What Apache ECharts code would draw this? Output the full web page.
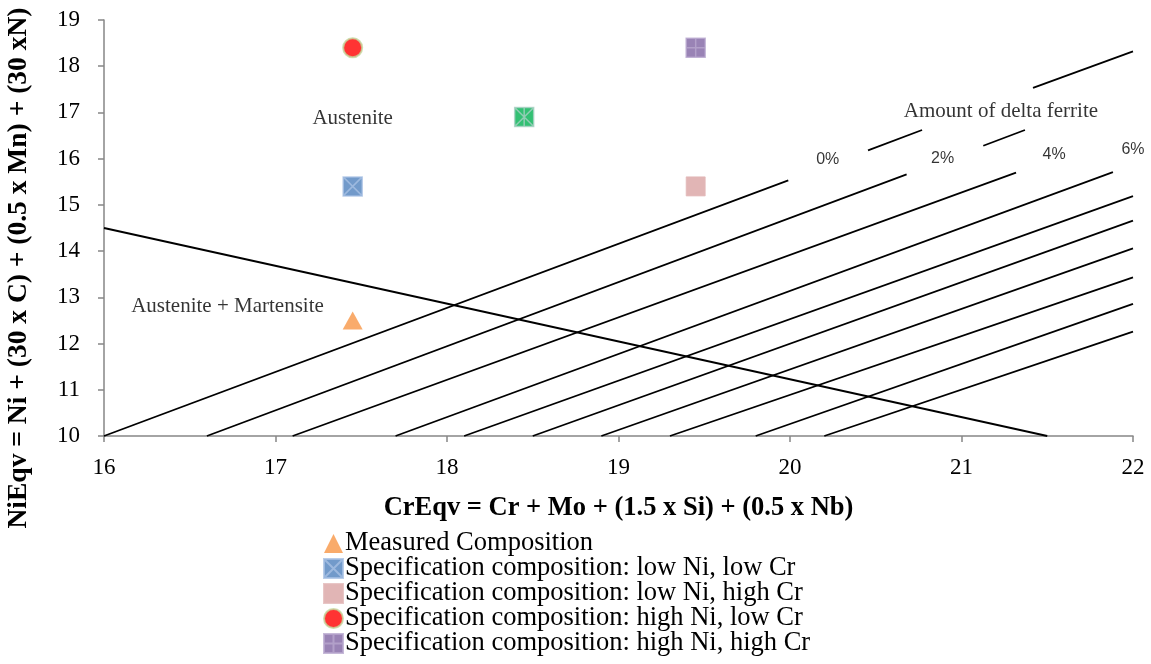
<!DOCTYPE html>
<html>
<head>
<meta charset="utf-8">
<title>Schaeffler-type constitution diagram</title>
<script src="https://cdn.jsdelivr.net/npm/echarts@6/dist/echarts.min.js"></script>
<style>
  html, body { margin: 0; padding: 0; background: #fff; }
  #chart { width: 1151px; height: 664px; }
</style>
</head>
<body>
<div id="chart"></div>
<script>
// Axis ranges and ticks
const xTicks = [16, 17, 18, 19, 20, 21, 22];
const yTicks = [10, 11, 12, 13, 14, 15, 16, 17, 18, 19];

// Composition points [CrEqv, NiEqv]
const measured = [[17.45, 12.5]];
const lowNiLowCr = [[17.45, 15.4]];
const lowNiHighCr = [[19.45, 15.4]];
const highNiLowCr = [[17.45, 18.4]];
const highNiHighCr = [[19.45, 18.4]];
const nominal = [[18.45, 16.9]];

// Delta-ferrite iso-lines, as segments [[x1, y1], [x2, y2]] (gaps leave room for labels)
const ferriteSegments = [
  [[16.0, 10], [19.99, 15.53]],
  [[20.455, 16.18], [20.77, 16.62]],
  [[21.417, 17.53], [22.0, 18.32]],
  [[16.6, 10], [20.68, 15.66]],
  [[21.127, 16.28], [21.37, 16.62]],
  [[17.1, 10], [21.318, 15.70]],
  [[17.7, 10], [21.883, 15.71]],
  [[18.1, 10], [22.0, 15.19]],
  [[18.5, 10], [22.0, 14.66]],
  [[18.9, 10], [22.0, 14.06]],
  [[19.3, 10], [22.0, 13.43]],
  [[19.8, 10], [22.0, 12.86]],
  [[20.2, 10], [22.0, 12.26]]
];
// Austenite / austenite + martensite boundary
const martensiteBoundary = [[16.0, 14.5], [21.5, 10.0]];

// Text annotations [x, y, text]
const regionLabels = [
  [17.45, 16.88, 'Austenite'],
  [16.72, 12.81, 'Austenite + Martensite'],
  [21.23, 17.03, 'Amount of delta ferrite']
];
const ferriteLabels = [
  [20.22, 15.97, '0%'],
  [20.89, 16.00, '2%'],
  [21.54, 16.08, '4%'],
  [22.00, 16.19, '6%']
];

const seriesNames = [
  'Measured Composition',
  'Specification composition: low Ni, low Cr',
  'Specification composition: low Ni, high Cr',
  'Specification composition: high Ni, low Cr',
  'Specification composition: high Ni, high Cr'
];

const SERIF = '"Liberation Serif", "Times New Roman", serif';
const SANS = '"Liberation Sans", Arial, sans-serif';

// Marker shapes: filled square with lighter cross strokes
const squareX = 'path://M0 0H20V20H0Z M0 0L20 20 M20 0L0 20';
const squarePlus = 'path://M0 0H20V20H0Z M10 0V20 M0 10H20';
const squareStar = 'path://M0 0H20V20H0Z M0 0L20 20 M20 0L0 20 M10 0V20';

const chart = echarts.init(document.getElementById('chart'), null, { renderer: 'canvas' });

const option = {
  animation: false,
  backgroundColor: '#ffffff',
  grid: { left: 104, right: 18, top: 20, bottom: 228, containLabel: false, outerBoundsMode: 'none' },
  xAxis: {
    type: 'value',
    min: xTicks[0], max: xTicks[xTicks.length - 1], interval: 1,
    name: 'CrEqv = Cr + Mo + (1.5 x Si) + (0.5 x Nb)',
    nameLocation: 'middle', nameGap: 59,
    nameTextStyle: { fontFamily: SERIF, fontWeight: 'bold', fontSize: 26.5, color: '#000' },
    axisLine: { lineStyle: { color: '#868686', width: 1.5 } },
    axisTick: { show: true, length: 6, lineStyle: { color: '#868686', width: 1.5 } },
    axisLabel: { fontFamily: SERIF, fontSize: 23, color: '#000', margin: 20 },
    splitLine: { show: false }
  },
  yAxis: {
    type: 'value',
    min: yTicks[0], max: yTicks[yTicks.length - 1], interval: 1,
    name: 'NiEqv = Ni + (30 x C) + (0.5 x Mn) + (30 xN)',
    nameLocation: 'middle', nameGap: 71,
    nameTextStyle: { fontFamily: SERIF, fontWeight: 'bold', fontSize: 27.5, color: '#000', padding: [0, 80, 0, 0] },
    axisLine: { show: true, lineStyle: { color: '#868686', width: 1.5 } },
    axisTick: { show: true, length: 6, lineStyle: { color: '#868686', width: 1.5 } },
    axisLabel: { fontFamily: SERIF, fontSize: 23, color: '#000', margin: 24 },
    splitLine: { show: false }
  },
  legend: {
    orient: 'vertical',
    left: 323, top: 530,
    itemWidth: 19, itemHeight: 19, itemGap: -2,
    padding: 0,
    textStyle: { fontFamily: SERIF, fontSize: 26.5, color: '#000', padding: [0, 0, 0, -3] },
    data: [
      { name: seriesNames[0], icon: 'triangle' },
      { name: seriesNames[1], icon: squareX },
      { name: seriesNames[2], icon: 'rect' },
      { name: seriesNames[3], icon: 'circle' },
      { name: seriesNames[4], icon: squarePlus }
    ]
  },
  series: [
    {
      type: 'lines', coordinateSystem: 'cartesian2d', silent: true, z: 2,
      lineStyle: { color: '#000', width: 1.8, opacity: 1 },
      data: ferriteSegments.map(s => ({ coords: s }))
    },
    {
      type: 'lines', coordinateSystem: 'cartesian2d', silent: true, z: 2,
      lineStyle: { color: '#000', width: 1.8, opacity: 1 },
      data: [{ coords: martensiteBoundary }]
    },
    {
      name: seriesNames[0], type: 'scatter', z: 5,
      symbol: 'triangle', symbolSize: [20, 18],
      itemStyle: { color: '#F79646' },
      data: measured
    },
    {
      name: seriesNames[1], type: 'scatter', z: 5,
      symbol: squareX, symbolSize: 19,
      itemStyle: { color: '#4F81BD', borderColor: '#A7C0E3', borderWidth: 1.5 },
      data: lowNiLowCr
    },
    {
      name: seriesNames[2], type: 'scatter', z: 5,
      symbol: 'rect', symbolSize: 19,
      itemStyle: { color: '#D9A3A3', borderColor: '#E2B8B8', borderWidth: 1 },
      data: lowNiHighCr
    },
    {
      name: seriesNames[3], type: 'scatter', z: 5,
      symbol: 'circle', symbolSize: 19,
      itemStyle: { color: '#FF0000', borderColor: '#C3D69B', borderWidth: 2 },
      data: highNiLowCr
    },
    {
      name: seriesNames[4], type: 'scatter', z: 5,
      symbol: squarePlus, symbolSize: 19,
      itemStyle: { color: '#8064A2', borderColor: '#B8A8CE', borderWidth: 1.5 },
      data: highNiHighCr
    },
    {
      name: 'Nominal composition', type: 'scatter', z: 5,
      symbol: squareStar, symbolSize: 19,
      itemStyle: { color: '#00B050', borderColor: '#A9CFC4', borderWidth: 1.5 },
      data: nominal
    },
    {
      type: 'scatter', silent: true, z: 6,
      symbolSize: 1, itemStyle: { color: 'rgba(0,0,0,0)' },
      label: {
        show: true, position: 'inside',
        formatter: p => p.value[2],
        fontFamily: SERIF, fontSize: 21, color: '#000'
      },
      data: regionLabels
    },
    {
      type: 'scatter', silent: true, z: 6,
      symbolSize: 1, itemStyle: { color: 'rgba(0,0,0,0)' },
      label: {
        show: true, position: 'inside',
        formatter: p => p.value[2],
        fontFamily: SANS, fontSize: 16, color: '#000'
      },
      data: ferriteLabels
    }
  ]
};

chart.setOption(option);
</script>
</body>
</html>
